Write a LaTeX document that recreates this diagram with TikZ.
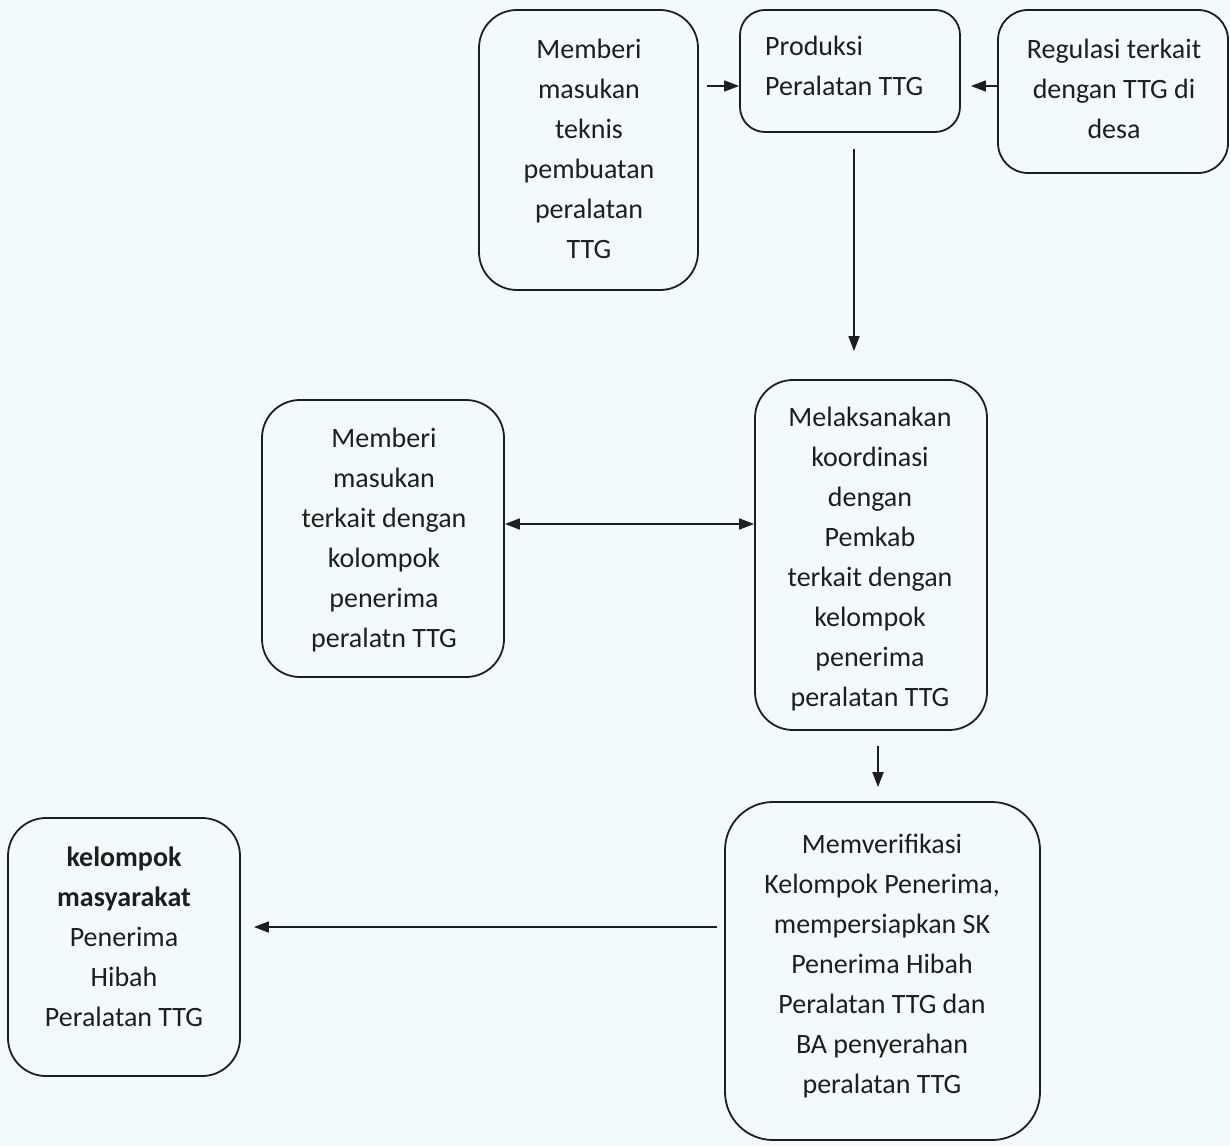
\documentclass[tikz,border=0pt]{standalone}
\usepackage{fontspec}
\setmainfont{Carlito}
\usetikzlibrary{arrows.meta}
\definecolor{paper}{RGB}{243,250,252}
\definecolor{ink}{RGB}{30,30,30}
\begin{document}
\begin{tikzpicture}[x=1pt,y=-1pt,
  box/.style={draw=ink, line width=1.8pt, rounded corners=38pt, inner sep=0pt},
  txt/.style={text=ink, align=center, inner sep=0pt, font=\fontsize{28}{40}\selectfont},
  arr/.style={draw=ink, line width=1.7pt, -{Triangle[length=15pt,width=11pt]}},
  arrb/.style={draw=ink, line width=1.7pt, {Triangle[length=15pt,width=11pt]}-{Triangle[length=15pt,width=11pt]}}]
% page
\fill[paper] (0,0) rectangle (1230,1145);
\useasboundingbox (0,0) rectangle (1230,1145);

% boxes
\node[box, minimum width=219pt, minimum height=280pt] (a) at (588.5,150) {};
\node[box, rounded corners=25pt, minimum width=220pt, minimum height=122pt] (b) at (850,71) {};
\node[box, rounded corners=30pt, minimum width=230pt, minimum height=163pt] (c) at (1113,91.5) {};
\node[box, minimum width=242pt, minimum height=277pt] (d) at (383,538.5) {};
\node[box, minimum width=232pt, minimum height=350pt] (e) at (871,555) {};
\node[box, rounded corners=48pt, minimum width=315pt, minimum height=338pt] (f) at (882.5,971) {};
\node[box, minimum width=232pt, minimum height=258pt] (g) at (124,947) {};

% texts
\node[txt] (at) at (589,149) {Memberi\\masukan\\teknis\\pembuatan\\peralatan\\TTG};
\node[txt, align=left, anchor=west] (bt) at (765,66) {Produksi\\Peralatan TTG};
\node[txt] (ct) at (1114,89) {Regulasi terkait\\dengan TTG di\\desa};
\node[txt] (dt) at (384,540) {Memberi\\masukan\\terkait dengan\\kolompok\\penerima\\peralatn TTG};
\node[txt] (et) at (870,559) {Melaksanakan\\koordinasi\\dengan\\Pemkab\\terkait dengan\\kelompok\\penerima\\peralatan TTG};
\node[txt] (ft) at (882,966) {Memverifikasi\\Kelompok Penerima,\\mempersiapkan SK\\Penerima Hibah\\Peralatan TTG dan\\BA penyerahan\\peralatan TTG};
\node[txt] (gt) at (124,937) {\textbf{kelompok}\\\textbf{masyarakat}\\Penerima\\Hibah\\Peralatan TTG};

% connectors
\coordinate (bin) at ([yshift=-15pt]b.west);
\coordinate (bout) at ([yshift=-15pt]b.east);
\draw[arr, shorten <=8pt] (a.east |- bin) -- (bin);
\draw[arr, shorten >=10pt] (c.west |- bout) -- (bout);
\coordinate (bs) at ([xshift=4pt]b.south);
\draw[arr, shorten <=16pt, shorten >=28pt] (bs) -- (bs |- e.north);
\coordinate (dr) at ([yshift=14.5pt]d.east);
\draw[arrb] (dr) -- (dr -| e.west);
\coordinate (es) at ([xshift=7pt]e.south);
\draw[arr, shorten <=15pt, shorten >=14pt] (es) -- (es |- f.north);
\coordinate (fw) at ([yshift=44pt]f.west);
\draw[arr, shorten <=7pt, shorten >=13pt] (fw) -- (fw -| g.east);
\end{tikzpicture}
\end{document}
